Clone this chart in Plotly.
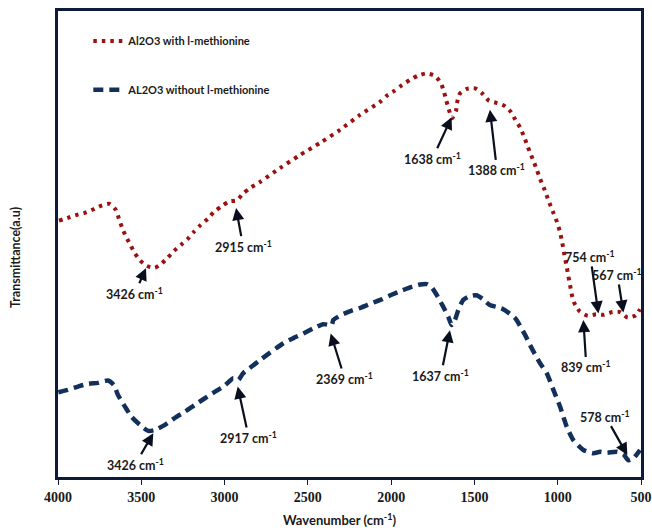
import plotly.graph_objects as go

# ---- data (wavenumber cm-1, transmittance a.u.) ----
red_wn = [3994, 3942, 3892, 3840, 3790, 3742, 3690, 3652, 3634, 3616, 3594, 3568, 3544, 3510,
          3467, 3418, 3382, 3340, 3304, 3262, 3221, 3184, 3143, 3101, 3063, 3021, 2975, 2925,
          2889, 2847, 2787, 2667, 2547, 2427, 2307, 2187, 2067, 2027, 1979, 1935, 1887, 1841,
          1789, 1737, 1701, 1683, 1669, 1654, 1635, 1611, 1603, 1587, 1546, 1495, 1453, 1414,
          1369, 1322, 1282, 1255, 1226, 1204, 1184, 1165, 1144, 1124, 1105, 1084, 1064, 1045,
          1024, 1004, 988, 976, 962, 946, 936, 926, 916, 900, 870, 820, 770, 722, 672, 624,
          580, 532, 506]
red_t = [55.0, 55.6, 56.2, 56.7, 57.4, 58.2, 58.6, 57.3, 55.4, 53.6, 51.7, 50.0, 48.3, 46.6,
         45.3, 44.9, 45.7, 47.1, 48.5, 49.8, 51.1, 52.6, 54.1, 55.4, 56.9, 58.0, 59.1, 59.4,
         60.8, 62.0, 63.3, 66.3, 69.1, 71.7, 74.5, 77.7, 80.5, 81.8, 82.9, 84.1, 85.2, 86.1,
         86.6, 86.1, 84.5, 82.7, 80.8, 78.9, 77.0, 78.5, 80.5, 82.3, 83.3, 83.4, 82.3, 80.8,
         80.3, 79.7, 78.4, 76.7, 75.0, 73.2, 71.3, 69.5, 67.7, 65.8, 63.9, 62.1, 60.2, 58.4,
         56.5, 54.7, 52.8, 50.9, 48.1, 45.1, 43.1, 41.2, 39.2, 37.3, 35.6, 34.6, 34.9, 34.8,
         35.4, 35.4, 34.2, 34.7, 36.0]

blue_wn = [3998, 3940, 3880, 3820, 3760, 3700, 3664, 3640, 3598, 3558, 3508, 3458, 3418, 3358,
           3298, 3238, 3178, 3118, 3057, 2997, 2948, 2918, 2888, 2837, 2787, 2647, 2587, 2527,
           2467, 2407, 2357, 2347, 2297, 2237, 2177, 2117, 2057, 1997, 1937, 1877, 1827, 1787,
           1757, 1727, 1687, 1657, 1637, 1617, 1597, 1567, 1527, 1487, 1447, 1407, 1366, 1327,
           1256, 1196, 1166, 1106, 1066, 1026, 986, 946, 906, 846, 786, 746, 706, 646, 606,
           576, 546, 506]
blue_t = [18.2, 18.7, 19.4, 20.0, 20.2, 20.7, 19.7, 17.6, 15.1, 12.9, 11.2, 9.9, 10.1, 11.2,
          12.7, 14.0, 15.5, 16.9, 18.3, 19.7, 21.2, 20.8, 22.3, 23.7, 25.1, 28.7, 29.8, 30.8,
          31.9, 32.8, 32.6, 33.7, 34.8, 35.7, 36.4, 37.3, 38.1, 39.1, 40.0, 40.8, 41.3, 41.4,
          40.7, 39.1, 36.5, 34.4, 32.6, 33.7, 35.8, 38.0, 38.8, 39.0, 38.1, 36.9, 36.5, 36.0,
          34.1, 30.5, 28.3, 24.4, 22.3, 18.7, 15.1, 10.8, 7.9, 5.8, 5.1, 5.4, 5.2, 5.4, 4.9,
          3.6, 4.0, 5.8]

series_names = ["Al2O3 with l-methionine", "AL2O3 without l-methionine"]

x_ticks = [4000, 3500, 3000, 2500, 2000, 1500, 1000, 500]

# peak labels: text, tip wavenumber, tip transmittance
red_peak_labels = ["3426", "2915", "1638", "1388", "754", "567", "839"]
red_peak_wn = [3472, 2931, 1637, 1407, 756, 606, 846]
red_peak_t = [44.8, 57.7, 77.2, 78.8, 35.1, 35.3, 33.7]
blue_peak_labels = ["3426", "2917", "2369", "1637", "578"]
blue_peak_wn = [3428, 2921, 2363, 1647, 582]
blue_peak_t = [9.4, 19.4, 30.8, 31.5, 4.7]

# ---- styling ----
RED = "#9c1010"
NAVY = "#12305a"
FRAME = "#0e1b38"
TXT = "#1a1a1a"
SANS = "Lato, 'Open Sans', sans-serif"
SERIF = "'Liberation Serif', 'Times New Roman', serif"

red_offsets = [(-11, 25), (7, 38), (-19, 41), (7, 60), (-8, -57), (-6, -38), (3, 47)]
blue_offsets = [(-18, 31), (11, 51), (14, 45), (-9, 45), (-22, -39)]

fig = go.Figure()
fig.add_trace(go.Scatter(
    x=red_wn, y=red_t, mode="lines", name=f"<b>{series_names[0]}</b>",
    line=dict(color=RED, width=4, dash="3.5px,5px", shape="spline", smoothing=0.6),
    legend="legend",
))
fig.add_trace(go.Scatter(
    x=blue_wn, y=blue_t, mode="lines", name=f"<b>{series_names[1]}</b>",
    line=dict(color=NAVY, width=4.5, dash="10px,6px", shape="spline", smoothing=0.6),
    legend="legend2",
))

annotations = []
for lab, wn, t, (ax, ay) in zip(red_peak_labels + blue_peak_labels,
                                red_peak_wn + blue_peak_wn,
                                red_peak_t + blue_peak_t,
                                red_offsets + blue_offsets):
    annotations.append(dict(
        x=wn, y=t, xref="x", yref="y",
        text=f"<b>{lab} cm<sup>-1</sup></b>",
        showarrow=True, ax=ax, ay=ay,
        arrowhead=2, arrowsize=1.1, arrowwidth=2.2, arrowcolor="#0a0f1e",
        font=dict(family=SANS, size=12.5, color=TXT),
    ))

annotations.append(dict(
    text="<b>Wavenumber (cm<sup>-1</sup>)</b>", xref="paper", yref="paper",
    x=0.484, y=-0.092, showarrow=False, xanchor="center", yanchor="middle",
    font=dict(family=SANS, size=13, color=TXT),
))
annotations.append(dict(
    text="<b>Transmittance(a.u)</b>", xref="paper", yref="paper",
    x=-0.072, y=0.47, showarrow=False, textangle=-90, xanchor="center", yanchor="middle",
    font=dict(family=SANS, size=12.5, color=TXT),
))

fig.update_layout(
    width=652, height=531,
    margin=dict(l=58, r=11, t=11, b=54),
    paper_bgcolor="white", plot_bgcolor="white",
    showlegend=True,
    legend=dict(x=0.052, y=0.967, xanchor="left", yanchor="top", bgcolor="rgba(0,0,0,0)",
                font=dict(family=SANS, size=11, color=TXT), itemwidth=30),
    legend2=dict(x=0.052, y=0.862, xanchor="left", yanchor="top", bgcolor="rgba(0,0,0,0)",
                 font=dict(family=SANS, size=11, color=TXT), itemwidth=30),
    annotations=annotations,
    xaxis=dict(
        range=[4000, 500], tickvals=x_ticks, ticktext=[str(v) for v in x_ticks],
        showgrid=False, zeroline=False, automargin=False,
        showline=True, mirror=True, linecolor=FRAME, linewidth=3,
        ticks="outside", ticklen=5, tickcolor=FRAME, tickwidth=1,
        tickfont=dict(family=SERIF, size=14, color=TXT, weight="bold"),
    ),
    yaxis=dict(
        range=[0, 100], showgrid=False, zeroline=False, showticklabels=False, ticks="",
        automargin=False,
        showline=True, mirror=True, linecolor=FRAME, linewidth=3,
    ),
)

fig.write_html(
    "out.html",
    config={"displayModeBar": False},
    post_script="document.body.style.margin='0';document.body.style.overflow='hidden';",
)
